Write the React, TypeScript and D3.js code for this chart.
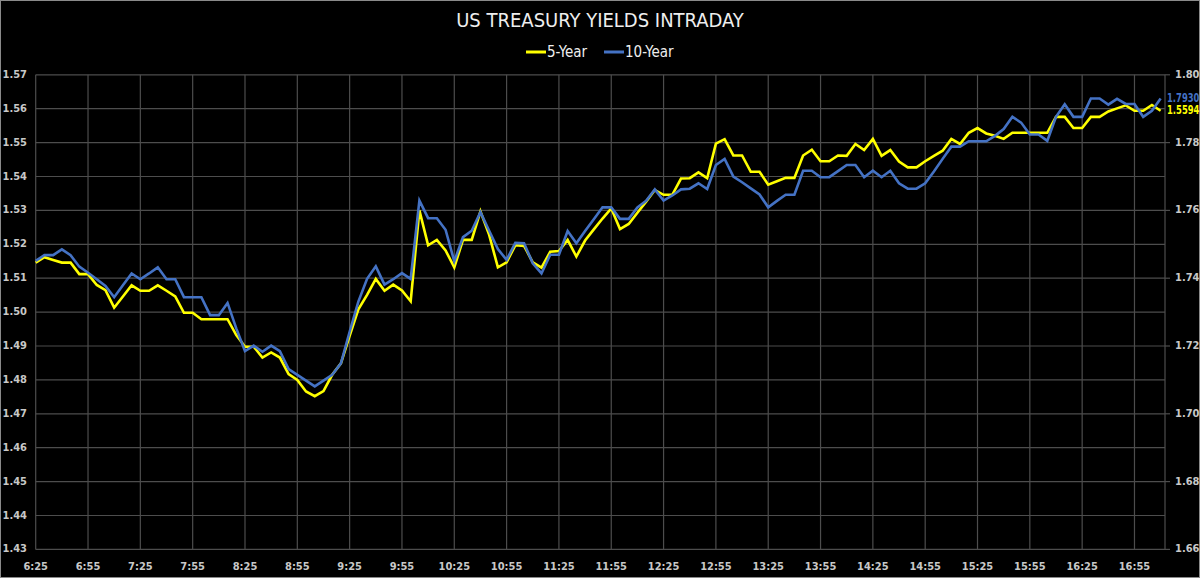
import React, { useEffect, useRef } from 'react';
import * as d3 from 'd3';

// 5-minute intraday points, 6:25 -> 17:10
const startTime = '6:25';
const stepMinutes = 5;

const fiveYear = [
  1.5146, 1.5162, 1.5154, 1.5146, 1.5146, 1.5112, 1.5112, 1.5080, 1.5065, 1.5013,
  1.5046, 1.5079, 1.5063, 1.5063, 1.5079, 1.5063, 1.5046, 1.4998, 1.4998, 1.4979,
  1.4979, 1.4979, 1.4979, 1.4932, 1.4898, 1.4898, 1.4866, 1.4881, 1.4866, 1.4817,
  1.4800, 1.4766, 1.4752, 1.4767, 1.4815, 1.4849, 1.4930, 1.5008, 1.5051, 1.5098,
  1.5063, 1.5081, 1.5064, 1.5032, 1.5300, 1.5197, 1.5213, 1.5182, 1.5132, 1.5213,
  1.5213, 1.5297, 1.5228, 1.5132, 1.5147, 1.5197, 1.5195, 1.5147, 1.5131, 1.5178,
  1.5180, 1.5213, 1.5164, 1.5211, 1.5244, 1.5276, 1.5306, 1.5245, 1.5260, 1.5293,
  1.5326, 1.5360, 1.5346, 1.5346, 1.5394, 1.5395, 1.5412, 1.5395, 1.5497, 1.5510,
  1.5462, 1.5462, 1.5414, 1.5414, 1.5376, 1.5386, 1.5396, 1.5396, 1.5462, 1.5479,
  1.5445, 1.5445, 1.5462, 1.5461, 1.5496, 1.5478, 1.5511, 1.5461, 1.5478, 1.5444,
  1.5427, 1.5427, 1.5445, 1.5461, 1.5476, 1.5511, 1.5496, 1.5529, 1.5543, 1.5527,
  1.5520, 1.5511, 1.5529, 1.5529, 1.5529, 1.5529, 1.5529, 1.5576, 1.5576, 1.5543,
  1.5543, 1.5576, 1.5576, 1.5592, 1.5601, 1.5610, 1.5594, 1.5594, 1.5611, 1.5594,
];

const tenYear = [
  1.7451, 1.7468, 1.7468, 1.7485, 1.7468, 1.7434, 1.7416, 1.7397, 1.7377, 1.7344,
  1.7379, 1.7414, 1.7397, 1.7414, 1.7432, 1.7397, 1.7397, 1.7344, 1.7344, 1.7344,
  1.7291, 1.7291, 1.7327, 1.7252, 1.7185, 1.7201, 1.7183, 1.7201, 1.7185, 1.7132,
  1.7115, 1.7098, 1.7081, 1.7098, 1.7115, 1.7149, 1.7242, 1.7331, 1.7398, 1.7435,
  1.7381, 1.7397, 1.7415, 1.7398, 1.7629, 1.7577, 1.7577, 1.7543, 1.7450, 1.7521,
  1.7540, 1.7595, 1.7540, 1.7486, 1.7454, 1.7504, 1.7503, 1.7444, 1.7414, 1.7469,
  1.7469, 1.7539, 1.7503, 1.7539, 1.7574, 1.7609, 1.7609, 1.7575, 1.7575, 1.7609,
  1.7628, 1.7662, 1.7629, 1.7644, 1.7662, 1.7664, 1.7680, 1.7663, 1.7734, 1.7752,
  1.7700, 1.7683, 1.7665, 1.7647, 1.7609, 1.7628, 1.7646, 1.7646, 1.7717, 1.7717,
  1.7698, 1.7698, 1.7716, 1.7734, 1.7734, 1.7698, 1.7717, 1.7698, 1.7717, 1.7680,
  1.7664, 1.7664, 1.7680, 1.7715, 1.7752, 1.7788, 1.7788, 1.7804, 1.7804, 1.7804,
  1.7820, 1.7840, 1.7876, 1.7859, 1.7824, 1.7824, 1.7805, 1.7876, 1.7913, 1.7876,
  1.7876, 1.7930, 1.7930, 1.7912, 1.7929, 1.7914, 1.7914, 1.7876, 1.7894, 1.7930,
];

const xTickLabels = [
  '6:25', '6:55', '7:25', '7:55', '8:25', '8:55', '9:25', '9:55', '10:25', '10:55', '11:25',
  '11:55', '12:25', '12:55', '13:25', '13:55', '14:25', '14:55', '15:25', '15:55', '16:25', '16:55',
];
const leftTicks = [1.43, 1.44, 1.45, 1.46, 1.47, 1.48, 1.49, 1.50, 1.51, 1.52, 1.53, 1.54, 1.55, 1.56, 1.57];
const rightTicks = [1.66, 1.68, 1.70, 1.72, 1.74, 1.76, 1.78, 1.80];

const seriesNames = ['5-Year', '10-Year'];
const seriesColors = ['#ffff00', '#4472c4'];

const FONT = "'Liberation Sans Narrow', 'DejaVu Sans Condensed', 'Roboto', sans-serif";

const toMinutes = (t: string) => {
  const [h, m] = t.split(':').map(Number);
  return h * 60 + m;
};

const YieldsChart = () => {
  const svgRef = useRef<SVGSVGElement | null>(null);

  useEffect(() => {
    const width = 1200;
    const height = 578;
    const margin = { top: 74.8, right: 35, bottom: 28.6, left: 35.7 };

    document.body.style.margin = '0';
    document.body.style.background = '#000';

    const svg = d3.select(svgRef.current)
      .attr('width', width)
      .attr('height', height);
    svg.selectAll('*').remove();

    svg.append('rect')
      .attr('x', 0.5).attr('y', 0.5)
      .attr('width', width - 1).attr('height', height - 1)
      .attr('fill', '#000')
      .attr('stroke', '#8a8a8a');

    const n = fiveYear.length;
    const xScale = d3.scaleLinear()
      .domain([0, n - 0.5])
      .range([margin.left, width - margin.right]);

    const yLeft = d3.scaleLinear()
      .domain([1.43, 1.57])
      .range([height - margin.bottom, margin.top]);

    const yRight = d3.scaleLinear()
      .domain([1.66, 1.80])
      .range([height - margin.bottom, margin.top]);

    const start = toMinutes(startTime);
    const tickIndex = (label: string) => (toMinutes(label) - start) / stepMinutes;

    const grid = svg.append('g').attr('stroke', '#4d4d4d').attr('stroke-width', 1.2);

    grid.selectAll('.hgrid')
      .data(leftTicks)
      .enter()
      .append('line')
      .attr('x1', margin.left)
      .attr('x2', width - margin.right)
      .attr('y1', d => yLeft(d))
      .attr('y2', d => yLeft(d));

    grid.selectAll('.vgrid')
      .data(xTickLabels)
      .enter()
      .append('line')
      .attr('x1', d => xScale(tickIndex(d)))
      .attr('x2', d => xScale(tickIndex(d)))
      .attr('y1', margin.top)
      .attr('y2', height - margin.bottom);

    // right edge + right axis ticks
    grid.append('line')
      .attr('x1', width - margin.right).attr('x2', width - margin.right)
      .attr('y1', margin.top).attr('y2', height - margin.bottom);
    grid.selectAll('.rtick')
      .data(rightTicks)
      .enter()
      .append('line')
      .attr('x1', width - margin.right)
      .attr('x2', width - margin.right + 5)
      .attr('y1', d => yRight(d))
      .attr('y2', d => yRight(d));

    svg.append('g')
      .selectAll('text')
      .data(leftTicks)
      .enter()
      .append('text')
      .attr('x', 27)
      .attr('y', d => yLeft(d))
      .attr('text-anchor', 'end')
      .attr('dominant-baseline', 'middle')
      .style('font-family', FONT)
      .style('font-size', '11px')
      .style('font-weight', 'bold')
      .style('fill', '#c8c8c8')
      .text(d => d3.format('.2f')(d));

    svg.append('g')
      .selectAll('text')
      .data(rightTicks)
      .enter()
      .append('text')
      .attr('x', width - margin.right + 10)
      .attr('y', d => yRight(d))
      .attr('dominant-baseline', 'middle')
      .style('font-family', FONT)
      .style('font-size', '11px')
      .style('font-weight', 'bold')
      .style('fill', '#c8c8c8')
      .text(d => d3.format('.2f')(d));

    svg.append('g')
      .selectAll('text')
      .data(xTickLabels)
      .enter()
      .append('text')
      .attr('x', d => xScale(tickIndex(d)))
      .attr('y', height - margin.bottom + 18)
      .attr('text-anchor', 'middle')
      .attr('dominant-baseline', 'middle')
      .style('font-family', FONT)
      .style('font-size', '11px')
      .style('font-weight', 'bold')
      .style('fill', '#c8c8c8')
      .text(d => d);

    const line5 = d3.line<number>()
      .x((d, i) => xScale(i))
      .y(d => yLeft(d));
    const line10 = d3.line<number>()
      .x((d, i) => xScale(i))
      .y(d => yRight(d));

    svg.append('path')
      .datum(fiveYear)
      .attr('d', line5)
      .attr('fill', 'none')
      .attr('stroke', seriesColors[0])
      .attr('stroke-width', 2.6)
      .attr('stroke-linejoin', 'miter');

    svg.append('path')
      .datum(tenYear)
      .attr('d', line10)
      .attr('fill', 'none')
      .attr('stroke', seriesColors[1])
      .attr('stroke-width', 2.6)
      .attr('stroke-linejoin', 'miter');

    // last value labels, narrowed horizontally to fit beside the right axis
    const endLabels = [
      { value: tenYear[n - 1], y: yRight(tenYear[n - 1]), color: seriesColors[1] },
      { value: fiveYear[n - 1], y: yLeft(fiveYear[n - 1]), color: seriesColors[0] },
    ];
    svg.append('g')
      .selectAll('g')
      .data(endLabels)
      .enter()
      .append('g')
      .attr('transform', d => `translate(${width - margin.right + 2},${d.y}) scale(0.78,1)`)
      .append('text')
      .attr('x', 0)
      .attr('y', 0)
      .attr('dominant-baseline', 'middle')
      .style('font-family', FONT)
      .style('font-size', '12px')
      .style('font-weight', 'bold')
      .style('fill', d => d.color)
      .text(d => d3.format('.4f')(d.value));

    // title
    svg.append('text')
      .attr('x', width / 2)
      .attr('y', 21)
      .attr('text-anchor', 'middle')
      .attr('dominant-baseline', 'middle')
      .style('font-family', FONT)
      .style('font-size', '20px')
      .style('fill', '#eeeeee')
      .text('US TREASURY YIELDS INTRADAY');

    // legend
    const legendX = [526, 604];
    const legend = svg.selectAll('.legend')
      .data(seriesNames)
      .enter()
      .append('g')
      .attr('transform', (d, i) => `translate(${legendX[i]},52)`);

    legend.append('line')
      .attr('x1', 0)
      .attr('x2', 20)
      .attr('y1', 0)
      .attr('y2', 0)
      .attr('stroke', (d, i) => seriesColors[i])
      .attr('stroke-width', 3);

    legend.append('text')
      .attr('x', 21)
      .attr('y', 0)
      .attr('dominant-baseline', 'middle')
      .style('font-family', FONT)
      .style('font-size', '15px')
      .style('fill', '#eeeeee')
      .text(d => d);
  }, []);

  return <svg ref={svgRef} style={{ display: 'block' }}></svg>;
};

export default function App() {
  return <YieldsChart />;
}
